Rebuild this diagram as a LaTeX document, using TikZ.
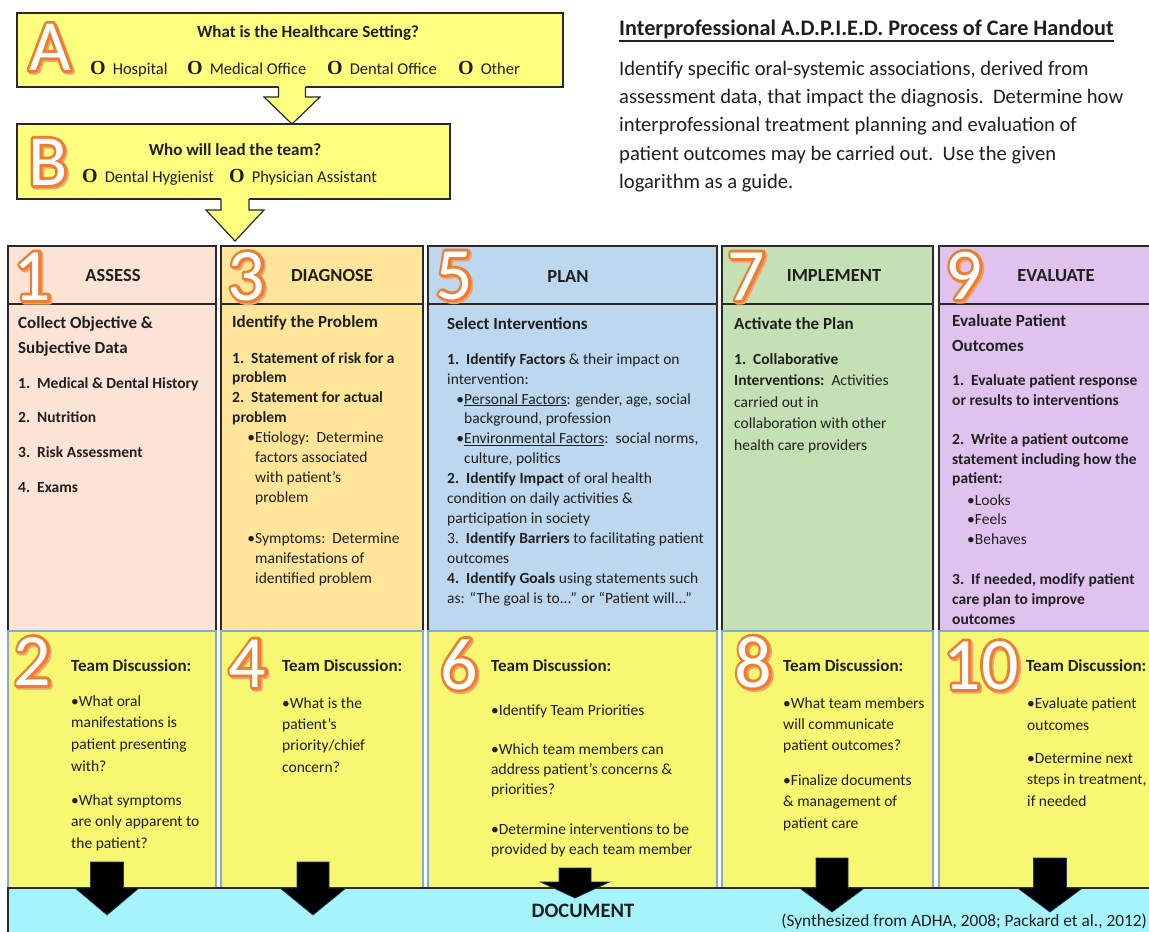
\documentclass[tikz,border=0pt]{standalone}
\usepackage{fontspec}
\setmainfont{Carlito}
\newfontfamily\optserif{Liberation Serif}
\usetikzlibrary{calc}

\definecolor{ink}{HTML}{1F1F1F}
\definecolor{edge}{HTML}{2A2A2A}
\definecolor{topyellow}{HTML}{FFFF7F}
\definecolor{teamyellow}{HTML}{F7F771}
\definecolor{teamedge}{HTML}{86A9D4}
\definecolor{peach}{HTML}{FBE4D6}
\definecolor{sand}{HTML}{FFE59A}
\definecolor{sky}{HTML}{BDD7EE}
\definecolor{sage}{HTML}{C5E0B4}
\definecolor{lilac}{HTML}{DFC3EE}
\definecolor{aqua}{HTML}{A6F4FA}
\definecolor{numorange}{HTML}{ED7D31}
\definecolor{arrowedge}{HTML}{1F3A60}

\newcommand\fhead{\fontsize{17}{25}\selectfont\bfseries}
\newcommand\fstage{\fontsize{18.5}{22}\selectfont\bfseries}
\newcommand\optO{{\optserif\bfseries\fontsize{20}{20}\selectfont O}}
% fixed first-line height, so a block's first baseline sits 16pt below its top
\newcommand\fst{\rule{0pt}{16pt}}
% glyphs painted as fill plus stroke (text render mode 2), then back to plain fill
\newcommand\strokeon[1]{\special{pdf:literal direct 2 Tr #1 w 1 j}}
\newcommand\strokeoff{\special{pdf:literal direct 0 Tr}}

% yellow block arrow hanging from a box: centre x, top, head top, tip, shaft half width, head half width
\newcommand\yarrow[6]{%
  \fill[topyellow] (#1-#5,#2-2) -- (#1+#5,#2-2) -- (#1+#5,#3) -- (#1+#6,#3) -- (#1,#4) -- (#1-#6,#3) -- (#1-#5,#3) -- cycle;
  \draw[edge, line width=1.2pt, line join=miter]
    (#1-#5,#2) -- (#1-#5,#3) -- (#1-#6,#3) -- (#1,#4) -- (#1+#6,#3) -- (#1+#5,#3) -- (#1+#5,#2);
}
% black block arrow pointing down into the document bar
\newcommand\karrow[6]{%
  \filldraw[fill=black, draw=arrowedge, line width=0.7pt, line join=miter]
    (#1-#5,#2) -- (#1+#5,#2) -- (#1+#5,#3) -- (#1+#6,#3) -- (#1,#4) -- (#1-#6,#3) -- (#1-#5,#3) -- cycle;
}
% white glyph with an orange outline and a soft orange shadow
\newcommand\bigmark[5]{% name, x, baseline y, size, glyphs
  \node[glyph=#4, text=numorange!70] at ($(#2,#3)+(1.6,1.8)$) {\strokeon{5.6}#5\strokeoff};
  \node[glyph=#4, text=numorange] at (#2,#3) {\strokeon{5.6}#5\strokeoff};
  \node[glyph=#4, text=white] (#1) at (#2,#3) {#5};
}

\tikzset{
  glyph/.style={anchor=base, inner sep=0pt, font=\fontsize{#1}{#1}\selectfont},
  line/.style={anchor=base west, inner sep=0pt, text=ink},
  blk/.style={anchor=north west, yshift=16pt, inner sep=0pt, align=left, text=ink},
  reg/.style={font=\fontsize{15.5}{#1}\selectfont},
  bld/.style={font=\fontsize{15.5}{#1}\selectfont\bfseries},
  opt/.style={line, font=\fontsize{16.5}{20}\selectfont},
  stage/.style={anchor=base, inner sep=0pt, text=ink, font=\fstage},
  hbox/.style={draw=edge, line width=1.2pt},
  tbox/.style={fill=teamyellow, draw=teamedge, line width=1.2pt},
}

\begin{document}
\begin{tikzpicture}[x=1pt,y=-1pt]
\useasboundingbox (0,0) rectangle (1149,932);
\fill[white] (0,0) rectangle (1149,932);

% ---- setting and team-lead boxes ----
\draw[hbox, fill=topyellow] (17,13) rectangle (563,87);
\draw[hbox, fill=topyellow] (17,124) rectangle (450,199);
\yarrow{292}{87}{97}{124}{13.5}{28}
\yarrow{235}{199}{210}{241}{14}{29}

% ---- five process columns ----
\draw[hbox, fill=peach] (8,246) rectangle (216,304);
\draw[hbox, fill=peach] (8,304) rectangle (216,631);
\draw[tbox] (8,631) rectangle (216,888);

\draw[hbox, fill=sand] (221,246) rectangle (423,304);
\draw[hbox, fill=sand] (221,304) rectangle (423,631);
\draw[tbox] (221,631) rectangle (423,888);

\draw[hbox, fill=sky] (428,246) rectangle (717,304);
\draw[hbox, fill=sky] (428,304) rectangle (717,631);
\draw[tbox] (428,631) rectangle (717,888);

\draw[hbox, fill=sage] (722,246) rectangle (933,304);
\draw[hbox, fill=sage] (722,304) rectangle (933,631);
\draw[tbox] (722,631) rectangle (933,888);

\draw[hbox, fill=lilac] (939,246) rectangle (1156,304);
\draw[hbox, fill=lilac] (939,304) rectangle (1156,631);
\draw[tbox] (939,631) rectangle (1156,888);

% ---- document bar ----
\fill[aqua] (8,888) rectangle (1156,940);
\draw[edge, line width=1.2pt] (8,940) -- (8,888) -- (1156,888);

\karrow{107}{862}{888}{915}{16.5}{32}
\karrow{313}{862}{888}{915}{16}{33}
\karrow{575}{868}{882}{898}{16}{34.5}
\karrow{832}{858}{888}{912}{16}{32.5}
\karrow{1050}{858}{888}{912}{16.5}{32.5}

% ---- big outlined markers ----
\bigmark{mA}{50}{70}{72}{A}
\bigmark{mB}{48}{185}{72}{B}
\bigmark{m1}{32.5}{300}{74}{1}
\bigmark{m3}{246.5}{300}{74}{3}
\bigmark{m5}{454.5}{299}{74}{5}
\bigmark{m7}{746.5}{300}{74}{7}
\bigmark{m9}{964}{299}{73}{9}
\bigmark{m2}{32.5}{685}{74}{2}
\bigmark{m4}{247.5}{687}{74}{4}
\bigmark{m6}{459}{689}{74}{6}
\bigmark{m8}{753.5}{687}{74}{8}
\bigmark{m10}{981}{689}{74}{10}

% ---- setting and team-lead texts ----
\node[stage, font=\fhead] (qA) at (308,37) {What is the Healthcare Setting?};
\node[opt] (oHosp)  at (90,74)  {\optO\hspace{7pt}Hospital};
\node[opt] (oMed)   at (187,74) {\optO\hspace{7pt}Medical Office};
\node[opt] (oDent)  at (327,74) {\optO\hspace{7pt}Dental Office};
\node[opt] (oOther) at (458,74) {\optO\hspace{7pt}Other};

\node[stage, font=\fhead] (qB) at (235,155) {Who will lead the team?};
\node[opt] (oHyg) at (82,182)  {\optO\hspace{7pt}Dental Hygienist};
\node[opt] (oPA)  at (229,182) {\optO\hspace{7pt}Physician Assistant};

% ---- handout title and instructions ----
\node[line, font=\fontsize{22.2}{26}\selectfont\bfseries] (title) at (619,35)
  {Interprofessional A.D.P.I.E.D. Process of Care Handout};
\draw[ink, line width=1.3pt] ([yshift=-6pt]title.base west) -- ([yshift=-6pt]title.base east);
\node[blk, font=\fontsize{20.6}{28.3}\selectfont] (intro) at (619,75)
  {\fst Identify specific oral-systemic associations, derived from\\
   assessment data, that impact the diagnosis.\ \ Determine how\\
   interprofessional treatment planning and evaluation of\\
   patient outcomes may be carried out.\ \ Use the given\\
   logarithm as a guide.};

% ---- column headings ----
\node[stage] (sAssess) at (113,281) {ASSESS};
\node[stage] (sDiag)   at (332,281) {DIAGNOSE};
\node[stage] (sPlan)   at (568,282) {PLAN};
\node[stage] (sImpl)   at (834,281) {IMPLEMENT};
\node[stage] (sEval)   at (1056,281) {EVALUATE};

% ---- assess ----
\node[blk, font=\fhead] (c1h) at (18,328) {\fst Collect Objective \&\\Subjective Data};
\node[blk, bld=34.7] (c1l) at (18,388)
  {\fst 1.\ \ Medical \& Dental History\\2.\ \ Nutrition\\3.\ \ Risk Assessment\\4.\ \ Exams};

% ---- diagnose ----
\node[line, font=\fhead] (c2h) at (232,327) {Identify the Problem};
\node[blk, bld=19.7] (c2l) at (232,363)
  {\fst 1.\ \ Statement of risk for a\\problem\\2.\ \ Statement for actual\\problem};
\node[blk, reg=20] (c2b) at (255,442)
  {\fst\llap{•}Etiology:\ \ Determine\\factors associated\\with patient’s\\problem\\[21pt]
   \llap{•}Symptoms:\ \ Determine\\manifestations of\\identified problem};

% ---- plan ----
\node[line, font=\fhead] (c3h) at (447,329) {Select Interventions};
\node[blk, reg=19.93] (c3l) at (447,364)
  {\fst\textbf{1.\ \ Identify Factors} \& their impact on\\
   intervention:\\
   \hspace*{17pt}\llap{•}\underline{Personal Factors}: gender, age, social\\
   \hspace*{17pt}background, profession\\
   \hspace*{17pt}\llap{•}\underline{Environmental Factors}:\ \ social norms,\\
   \hspace*{17pt}culture, politics\\
   \textbf{2.\ \ Identify Impact} of oral health\\
   condition on daily activities \&\\
   participation in society\\
   3.\ \ \textbf{Identify Barriers} to facilitating patient\\
   outcomes\\
   \textbf{4.\ \ Identify Goals} using statements such\\
   as: “The goal is to...” or “Patient will...”};

% ---- implement ----
\node[line, font=\fhead] (c4h) at (734,329) {Activate the Plan};
\node[blk, reg=21.5] (c4l) at (734,364)
  {\fst\textbf{1.\ \ Collaborative}\\\textbf{Interventions:}\ \ Activities\\carried out in\\
   collaboration with other\\health care providers};

% ---- evaluate ----
\node[line, font=\fhead] (c5h) at (952,326) {Evaluate Patient};
\node[line, font=\fhead] (c5h2) at (952,351) {Outcomes};
\node[blk, bld=19.8] (c5l) at (952,385)
  {\fst 1.\ \ Evaluate patient response\\or results to interventions\\[19.5pt]
   2.\ \ Write a patient outcome\\statement including how the\\patient:};
\node[blk, reg=19.5] (c5b) at (967,505) {\fst•Looks\\•Feels\\•Behaves};
\node[blk, bld=20] (c5m) at (952,584)
  {\fst 3.\ \ If needed, modify patient\\care plan to improve\\outcomes};

% ---- team discussions ----
\node[line, font=\fhead] (t1h) at (71,671) {Team Discussion:};
\node[blk, reg=21.6] (t1l) at (71,706)
  {\fst•What oral\\manifestations is\\patient presenting\\with?\\[12.6pt]
   •What symptoms\\are only apparent to\\the patient?};

\node[line, font=\fhead] (t2h) at (282,671) {Team Discussion:};
\node[blk, reg=21.3] (t2l) at (282,708)
  {\fst•What is the\\patient’s\\priority/chief\\concern?};

\node[line, font=\fhead] (t3h) at (491,671) {Team Discussion:};
\node[blk, reg=20] (t3l) at (491,715)
  {\fst•Identify Team Priorities\\[19pt]
   •Which team members can\\address patient’s concerns \&\\priorities?\\[20pt]
   •Determine interventions to be\\provided by each team member};

\node[line, font=\fhead] (t4h) at (783,671) {Team Discussion:};
\node[blk, reg=21.3] (t4l) at (783,708)
  {\fst•What team members\\will communicate\\patient outcomes?\\[13.5pt]
   •Finalize documents\\\& management of\\patient care};

\node[line, font=\fhead] (t5h) at (1026,671) {Team Discussion:};
\node[blk, reg=21.9] (t5l) at (1027,708)
  {\fst•Evaluate patient\\outcomes\\[11pt]
   •Determine next\\steps in treatment,\\if needed};

% ---- document bar texts ----
\node[stage, font=\fontsize{20.5}{24}\selectfont\bfseries] (doc) at (583,917) {DOCUMENT};
\node[line, anchor=base east, font=\fontsize{17.3}{20}\selectfont] (cite) at (1147,926)
  {(Synthesized from ADHA, 2008; Packard et al., 2012)};
\end{tikzpicture}
\end{document}
